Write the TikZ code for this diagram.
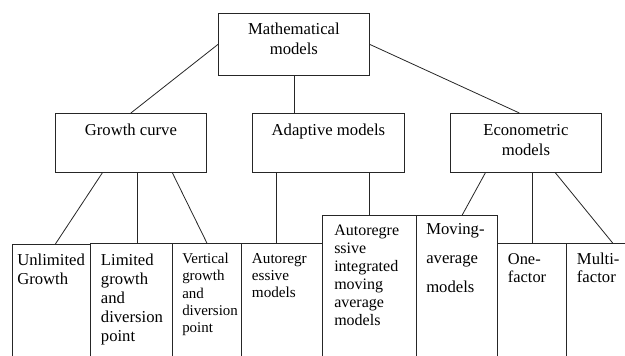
\documentclass[tikz,border=0pt]{standalone}
\usepackage{fontspec}
\setmainfont{Liberation Serif}
\usetikzlibrary{positioning}
\tikzset{
  box/.style={draw=black!85, line width=0.6pt, rectangle, inner sep=0pt, anchor=north west},
  px/.style 2 args={minimum width=#1*0.75pt, minimum height=#2*0.75pt},
  head/.style={inner sep=0pt, align=center, font=\fontsize{12.5}{15}\selectfont},
  leaf/.style={inner sep=0pt, align=left, font=\fontsize{12.5}{14}\selectfont},
  link/.style={line width=0.6pt, black!85}
}
\begin{document}
\begin{tikzpicture}[x=0.75pt,y=-0.75pt]
\clip (0,0) rectangle (625,356);
%TOP
\node[box, px={151}{62}] (math) at (218,13) {};
\node[head, below=7.5pt of math.north] (mathtxt) {Mathematical\\models};
%MIDDLE
\node[box, px={151}{59}] (growth) at (55,113) {};
\node[box, px={152}{59}] (adapt) at (252,113) {};
\node[box, px={151}{59}] (econ) at (450,113) {};
\node[head, below=8.25pt of growth.north] (growthtxt) {Growth curve};
\node[head, below=8.25pt of adapt.north] (adapttxt) {Adaptive models};
\node[head, below=8.25pt of econ.north] (econtxt) {Econometric\\models};
%BOTTOM
\node[box, px={78}{126}] (unl) at (12,244) {};
\node[box, px={82}{127}] (lim) at (90,243) {};
\node[box, px={69}{127}] (vert) at (172,243) {};
\node[box, px={81}{127}] (autor) at (241,243) {};
\node[box, px={94}{155}] (arima) at (322,215) {};
\node[box, px={81}{155}] (mova) at (416,215) {};
\node[box, px={69}{127}] (onef) at (497,243) {};
\node[box, px={74}{127}] (multi) at (566,243) {};
\node[leaf, font=\fontsize{12.5}{13.75}\selectfont, below right=7.5pt and 3.75pt of unl.north west] (unltxt) {Unlimited\\Growth};
\node[leaf, font=\fontsize{12.5}{14.25}\selectfont, below right=8pt and 8pt of lim.north west] (limtxt) {Limited\\growth\\and\\diversion\\point};
\node[leaf, font=\fontsize{11.2}{13}\selectfont, below right=7.5pt and 7.5pt of vert.north west] (verttxt) {Vertical\\growth\\and\\diversion\\point};
\node[leaf, font=\fontsize{11.4}{13}\selectfont, below right=7.5pt and 8pt of autor.north west] (autortxt) {Autoregr\\essive\\models};
\node[leaf, font=\fontsize{12}{13.5}\selectfont, below right=7.5pt and 9pt of arima.north west] (arimatxt) {Autoregre\\ssive\\integrated\\moving\\average\\models};
\node[leaf, font=\fontsize{12.5}{21.75}\selectfont, below right=6pt and 7.5pt of mova.north west] (movatxt) {Moving-\\average\\models};
\node[leaf, font=\fontsize{12.3}{13.75}\selectfont, below right=7.5pt and 8pt of onef.north west] (oneftxt) {One-\\factor};
\node[leaf, font=\fontsize{12.5}{13.75}\selectfont, below right=7pt and 8pt of multi.north west] (multitxt) {Multi-\\factor};
% Links top
\draw[link] (math.west) -- (growth.north);
\draw[link] (math.south) -- (math.south |- adapt.north);
\draw[link] (math.east) -- ([xshift=-4.9pt]econ.north);
% Links growth
\path ([xshift=4.9pt]growth.south) coordinate (g2);
\draw[link] ([xshift=-21.4pt]growth.south) -- ([xshift=3pt]unl.north);
\draw[link] (g2) -- (g2 |- lim.north);
\draw[link] ([xshift=31.1pt]growth.south) -- (vert.north);
% Links adaptive
\path ([xshift=-39pt]adapt.south) coordinate (a1);
\draw[link] (a1) -- (a1 |- autor.north);
\draw[link] (arima.north |- adapt.south) -- (arima.north);
% Links econometric
\draw[link] ([xshift=-30.4pt]econ.south) -- ([xshift=4pt]mova.north);
\draw[link] (onef.north |- econ.south) -- (onef.north);
\draw[link] ([xshift=22.1pt]econ.south) -- ([xshift=35pt]multi.north west);
\end{tikzpicture}
\end{document}
